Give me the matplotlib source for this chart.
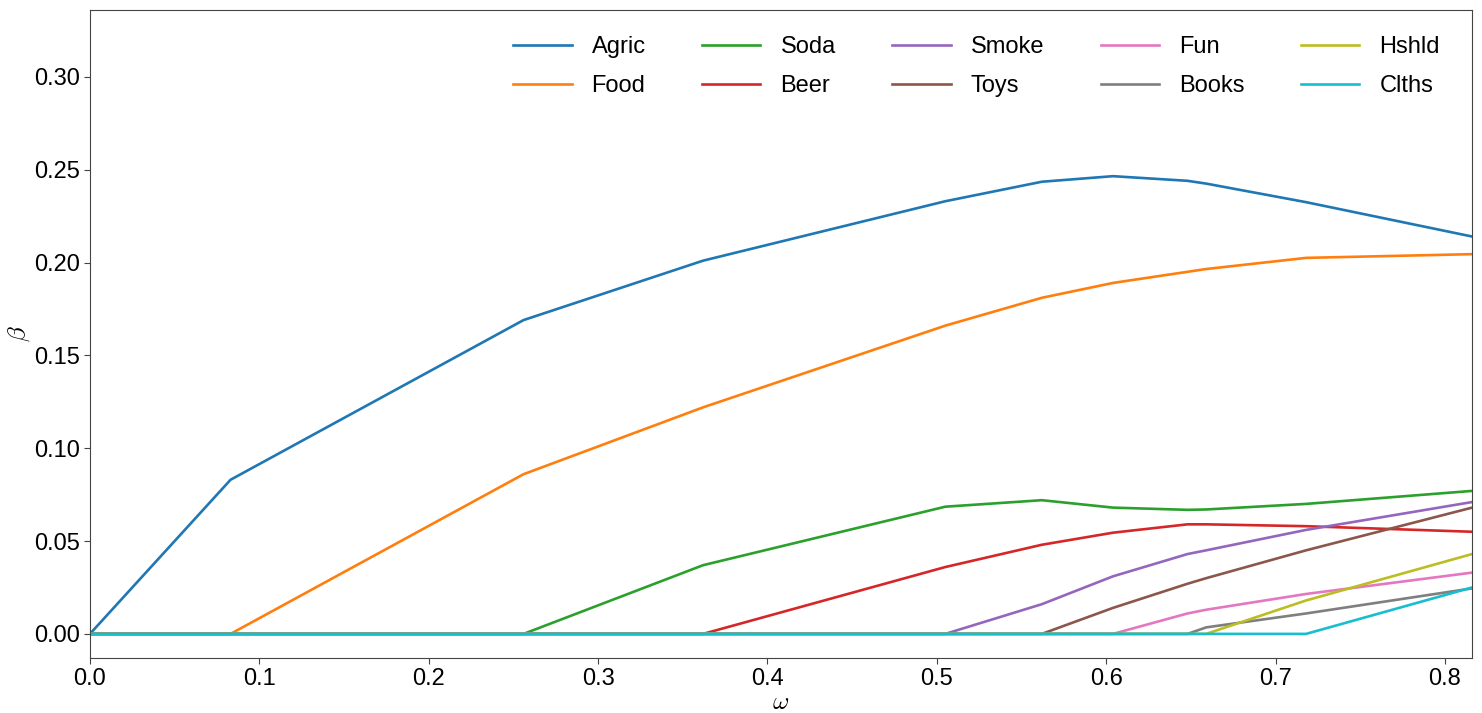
import matplotlib
matplotlib.use("Agg")
import matplotlib.pyplot as plt

plt.rcParams['font.family'] = ['Liberation Sans', 'DejaVu Sans']
plt.rcParams['mathtext.fontset'] = 'cm'

omega = [0.0, 0.083, 0.256, 0.362, 0.505, 0.562, 0.604, 0.648, 0.659, 0.718, 0.816]

names = ["Agric", "Food", "Soda", "Beer", "Smoke", "Toys", "Fun", "Books", "Hshld", "Clths"]

agric = [0.0, 0.083, 0.169, 0.201, 0.233, 0.2435, 0.2465, 0.244, 0.2425, 0.2325, 0.214]
food  = [0.0, 0.0, 0.086, 0.122, 0.166, 0.181, 0.189, 0.195, 0.1965, 0.2025, 0.2045]
soda  = [0.0, 0.0, 0.0, 0.037, 0.0685, 0.072, 0.068, 0.0668, 0.067, 0.070, 0.077]
beer  = [0.0, 0.0, 0.0, 0.0, 0.036, 0.048, 0.0545, 0.059, 0.059, 0.058, 0.055]
smoke = [0.0, 0.0, 0.0, 0.0, 0.0, 0.016, 0.031, 0.043, 0.045, 0.056, 0.071]
toys  = [0.0, 0.0, 0.0, 0.0, 0.0, 0.0, 0.014, 0.027, 0.030, 0.045, 0.068]
fun   = [0.0, 0.0, 0.0, 0.0, 0.0, 0.0, 0.0, 0.011, 0.013, 0.0215, 0.033]
books = [0.0, 0.0, 0.0, 0.0, 0.0, 0.0, 0.0, 0.0, 0.0035, 0.011, 0.0245]
hshld = [0.0, 0.0, 0.0, 0.0, 0.0, 0.0, 0.0, 0.0, 0.0, 0.018, 0.043]
clths = [0.0, 0.0, 0.0, 0.0, 0.0, 0.0, 0.0, 0.0, 0.0, 0.0, 0.025]

series = [agric, food, soda, beer, smoke, toys, fun, books, hshld, clths]

fig = plt.figure(figsize=(14.82, 7.13), dpi=100)
ax = fig.add_axes([0.0607, 0.0771, 0.9326, 0.9089])

for name, vals in zip(names, series):
    ax.plot(omega, vals, label=name, lw=1.9)

ax.set_xlim(0, 0.816)
ax.set_ylim(-0.013, 0.336)
ax.set_xticks([0.0, 0.1, 0.2, 0.3, 0.4, 0.5, 0.6, 0.7, 0.8])
ax.set_yticks([0.0, 0.05, 0.10, 0.15, 0.20, 0.25, 0.30])
ax.set_yticklabels(["0.00", "0.05", "0.10", "0.15", "0.20", "0.25", "0.30"])
ax.tick_params(labelsize=17, length=4, color='#444444', pad=3)
for s in ax.spines.values():
    s.set_color('#444444')
ax.set_xlabel(r'$\omega$', fontsize=18, labelpad=0)
ax.set_ylabel(r'$\beta$', fontsize=18, labelpad=2)

ax.legend(ncol=5, loc='upper right', frameon=False, fontsize=17,
          handlelength=2.46, handletextpad=0.85, columnspacing=2.4,
          labelspacing=0.72, bbox_to_anchor=(0.992, 0.992))

fig.savefig("out.png", dpi=100)
